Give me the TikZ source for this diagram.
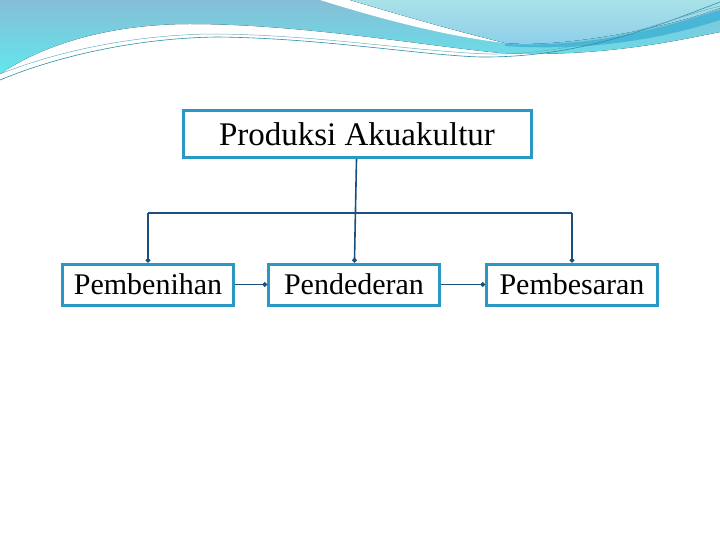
\documentclass[tikz,border=0pt]{standalone}
\usepackage{fontspec}
\setmainfont{Liberation Serif}
\usetikzlibrary{shapes,arrows.meta,positioning}

\definecolor{boxblue}{HTML}{2A97C4}
\definecolor{linkblue}{HTML}{1B4F80}
\definecolor{waveA}{HTML}{86BED6}
\definecolor{waveB}{HTML}{62E6EE}
\definecolor{waveC}{HTML}{A9E1E8}
\definecolor{waveD}{HTML}{8CCDEB}
\definecolor{waveE}{HTML}{48B6D6}
\definecolor{waveLine}{HTML}{2B8FA6}

\begin{document}
\begin{tikzpicture}[x=1pt, y=-1pt, node distance=32pt]

            % Define block styles
            \tikzstyle{block} = [rectangle, draw=boxblue, line width=3pt, fill=white, text centered, inner sep=0pt, minimum width=171pt, minimum height=41pt, font=\fontsize{30}{33}\selectfont]
            \tikzstyle{line} = [draw=linkblue, line width=1.6pt, -{Circle[length=4.5pt]}]

            \useasboundingbox (0,0) rectangle (720,540);

            % Background waves
            \fill[top color=waveA, bottom color=waveB] (0,0) -- (0,74) .. controls (50,40) and (120,24) .. (190,24) .. controls (300,24) and (420,45) .. (500,53) .. controls (600,58) and (680,40) .. (720,32) -- (720,0) -- cycle;
            \fill[white] (320,0) .. controls (400,25) and (460,38) .. (505,43) .. controls (460,32) and (410,18) .. (350,0) -- cycle;
            \fill[top color=waveC, bottom color=waveD] (350,0) .. controls (410,18) and (460,32) .. (505,43) .. controls (560,48) and (660,30) .. (720,8) -- (720,0) -- cycle;
            \fill[waveE] (505,44) .. controls (600,48) and (670,25) .. (720,10) -- (720,20) .. controls (670,36) and (600,52) .. (505,46) -- cycle;
            \draw[waveLine, line width=0.6pt] (0,80) .. controls (60,55) and (140,38) .. (217,37) .. controls (320,38) and (420,55) .. (480,57) .. controls (580,58) and (660,25) .. (720,2);
            \draw[waveLine!70, line width=0.5pt] (0,74) .. controls (60,50) and (140,34) .. (217,34) .. controls (320,35) and (420,52) .. (490,54) .. controls (580,55) and (660,22) .. (720,6);

            % Nodes
            \node [block, minimum width=348pt, minimum height=47pt, font=\fontsize{33}{36}\selectfont] (produksi) at (357,134) {Produksi Akuakultur};
            \node [block] (dederan) at (354,284.5) {Pendederan};
            \node [block, left=of dederan] (benih) {Pembenihan};
            \node [block, right=44pt of dederan] (besar) {Pembesaran};
            \coordinate (bar) at (produksi.south |- 0,213);

            % Arrows
            \path [line] (produksi) -- (dederan);
            \path [draw=linkblue, line width=1.6pt] (benih.north |- bar) -- (besar.north |- bar);
            \path [line] (benih.north |- bar) -- (benih.north);
            \path [line] (besar.north |- bar) -- (besar.north);
            \path [line] (benih) -- (dederan);
            \path [line] (dederan) -- (besar);

\end{tikzpicture}
\end{document}
